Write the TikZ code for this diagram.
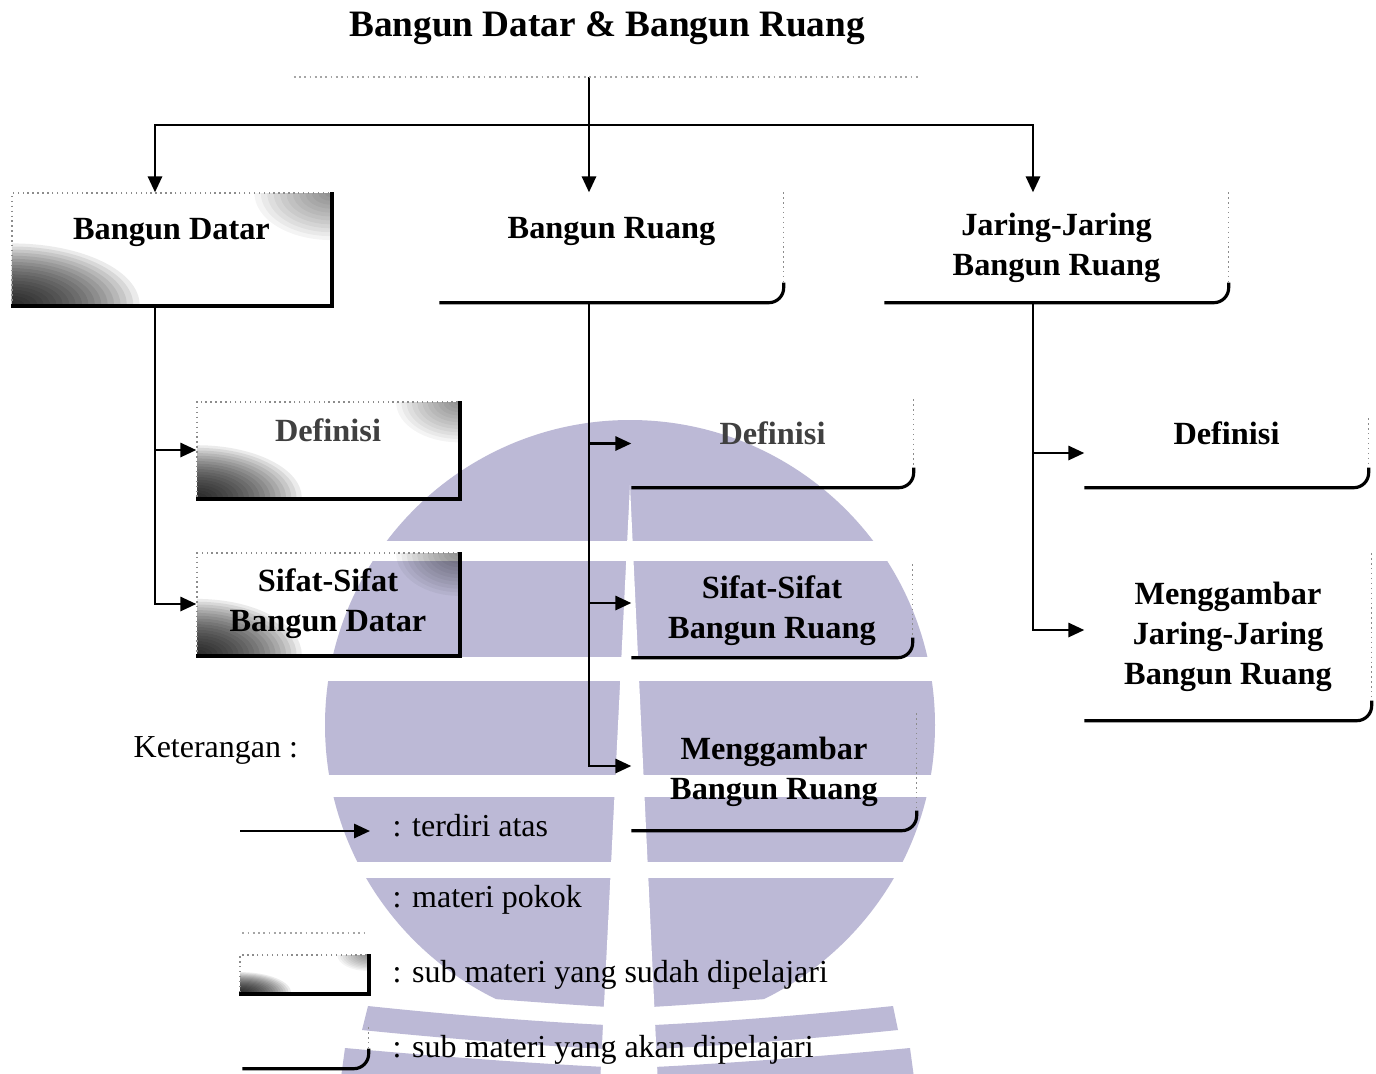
\documentclass[tikz,border=0pt]{standalone}
\usepackage{fontspec}
\setmainfont{Liberation Serif}
\usetikzlibrary{arrows.meta,calc}
\definecolor{wmark}{RGB}{188,185,214}
\newcommand{\titlefont}{\fontsize{10.6}{12}\selectfont\bfseries}
\newcommand{\boxfont}{\fontsize{9.2}{11.4}\selectfont\bfseries}
\newcommand{\ketfont}{\fontsize{9.1}{11}\selectfont}
\tikzset{
  arr/.style={-{Triangle[length=4.5pt,width=4pt]}, line width=0.7pt},
  kotak/.style={inner sep=0pt, align=center, font=\boxfont},
  pokok/.style={inner sep=0pt, align=center},
  sudah/.style={kotak, draw=black!45, densely dotted, line width=0.4pt,
    path picture={
      \foreach \k in {1,...,20}
        \fill[black, opacity=0.08] let \p1=(path picture bounding box.south west),
          \p2=(path picture bounding box.north east) in
          (\p1) ellipse ({0.02*\k*(\x2-\x1)} and {0.0275*\k*(\y2-\y1)});
      \foreach \k in {1,...,12}
        \fill[black, opacity=0.045] let \p1=(path picture bounding box.south west),
          \p2=(path picture bounding box.north east) in
          (\p2) ellipse ({0.02*\k*(\x2-\x1)} and {0.035*\k*(\y2-\y1)});
    }},
  akan/.style={kotak},
  pokokedge/.style={black!35, densely dotted, line width=0.5pt},
  sudahedge/.style={black, solid, line width=1.1pt},
  akanside/.style={black!45, densely dotted, line width=0.4pt},
  akanbase/.style={black, line width=0.9pt, rounded corners=1.5mm},
  ket/.style={inner sep=0pt, anchor=west, font=\ketfont}
}
\begin{document}
\begin{tikzpicture}
  \fill[white] (0,0) rectangle (13.76,-10.73);
  \useasboundingbox (0,0) rectangle (13.76,-10.73);
  % watermark
  \begin{scope}
    \clip (0,0) -- (13.76,0) -- (13.76,-9.88) -- (9.0,-9.88) .. controls (7.6,-10.0) and (6.6,-10.07) .. (6.30,-10.08)
      .. controls (6.0,-10.07) and (5.0,-10.0) .. (3.6,-9.88) -- (0,-9.88) -- cycle;
    \fill[wmark] (6.30,-7.25) circle (3.05);
  \end{scope}
  \foreach \a/\b in {5.41/5.61, 6.57/6.81, 7.75/7.97, 8.62/8.78}
    \fill[white] (3.0,-\a) rectangle (9.6,-\b);
  \fill[wmark] (3.68,-10.06) .. controls (5.0,-10.20) and (6.0,-10.25) .. (6.30,-10.26)
    .. controls (6.6,-10.25) and (7.6,-10.20) .. (8.93,-10.06) -- (8.98,-10.30)
    .. controls (7.6,-10.44) and (6.6,-10.49) .. (6.30,-10.50)
    .. controls (6.0,-10.49) and (5.0,-10.44) .. (3.62,-10.30) -- cycle;
  \fill[wmark] (3.45,-10.48) .. controls (5.0,-10.62) and (6.0,-10.67) .. (6.30,-10.68)
    .. controls (6.6,-10.67) and (7.6,-10.62) .. (9.10,-10.48) -- (9.15,-10.85) -- (3.40,-10.85) -- cycle;
  \fill[white] (6.30,-4.85) -- (6.58,-10.85) -- (6.00,-10.85) -- cycle;

  \node[pokok, font=\titlefont, minimum width=6.25cm, minimum height=0.96cm] (top) at (6.07,-0.28) {Bangun Datar \& Bangun Ruang};
  \node[sudah, minimum width=3.19cm, minimum height=1.12cm] (bd) at (1.715,-2.49) {Bangun Datar\\\mbox{}};
  \node[akan, minimum width=3.43cm, minimum height=1.09cm] (br) at (6.115,-2.475) {Bangun Ruang\\\mbox{}};
  \node[akan, minimum width=3.43cm, minimum height=1.09cm] (jj) at (10.565,-2.475) {Jaring-Jaring\\Bangun Ruang};
  \node[sudah, text=black!75, minimum width=2.62cm, minimum height=0.96cm] (defl) at (3.28,-4.50) {Definisi\\\mbox{}};
  \node[sudah, minimum width=2.62cm, minimum height=1.02cm] (sifl) at (3.28,-6.04) {Sifat-Sifat\\Bangun Datar};
  \node[akan, text=black!75, minimum width=2.81cm, minimum height=0.87cm] (defm) at (7.725,-4.435) {Definisi\\[-5.7pt]\mbox{}};
  \node[akan, minimum width=2.80cm, minimum height=0.92cm] (sifm) at (7.72,-6.11) {Sifat-Sifat\\Bangun Ruang};
  \node[akan, minimum width=2.84cm, minimum height=1.16cm] (gbm) at (7.74,-7.72) {Menggambar\\Bangun Ruang};
  \node[akan, minimum width=2.83cm, minimum height=0.68cm] (defr) at (12.265,-4.53) {Definisi\\\mbox{}};
  \node[akan, minimum width=2.86cm, minimum height=1.66cm] (gjr) at (12.28,-6.37) {Menggambar\\Jaring-Jaring\\Bangun Ruang};

  \coordinate (hub) at (5.89,-1.25);
  \draw[line width=0.7pt] (top.south -| hub) -- (hub);
  \draw[arr] (hub) -- (hub |- br.north);
  \draw[arr] (hub) -| ([xshift=-1.65mm]bd.north);
  \draw[arr] (hub) -| ([xshift=-2.35mm]jj.north);
  \draw[arr] ([xshift=-1.65mm]bd.south) |- (defl.west);
  \draw[arr] ([xshift=-1.65mm]bd.south) |- (sifl.west);
  \draw[arr] (hub |- br.south) |- (defm.west);
  \draw[arr] (hub |- br.south) |- ([yshift=0.8mm]sifm.west);
  \draw[arr] (hub |- br.south) |- ([yshift=0.6mm]gbm.west);
  \draw[arr] ([xshift=-2.35mm]jj.south) |- (defr.west);
  \draw[arr] ([xshift=-2.35mm]jj.south) |- ([yshift=0.7mm]gjr.west);

  \node[ket] (ket) at (1.33,-7.50) {Keterangan :};
  \coordinate (karrA) at (2.40,-8.31);
  \coordinate (karrB) at (3.70,-8.31);
  \draw[arr] (karrA) -- (karrB);
  \node[ket] (kt1) at (3.92,-8.26) {: terdiri atas};
  \node[pokok, minimum width=1.25cm, minimum height=0.40cm] (kpokok) at (3.055,-9.12) {};
  \node[ket] (kt2) at (3.92,-9.00) {: materi pokok};
  \node[sudah, minimum width=1.28cm, minimum height=0.38cm] (ksudah) at (3.04,-9.74) {};
  \node[ket] (kt3) at (3.92,-9.75) {: sub materi yang sudah dipelajari};
  \node[akan, minimum width=1.25cm, minimum height=0.40cm] (kakan) at (3.055,-10.48) {};
  \node[ket] (kt4) at (3.92,-10.50) {: sub materi yang akan dipelajari};

  \foreach \b in {top,kpokok}
    \draw[pokokedge] (\b.south west) -- (\b.south east);
  \foreach \b in {bd,defl,sifl,ksudah}
    \draw[sudahedge] (\b.north east) -- (\b.south east) -- (\b.south west);
  \foreach \b in {br,jj,defm,sifm,gbm,defr,gjr,kakan}{
    \draw[akanside] (\b.north east) -- ([yshift=2mm]\b.south east);
    \draw[akanbase] ([yshift=2mm]\b.south east) -- (\b.south east) -- (\b.south west);
  }
\end{tikzpicture}
\end{document}
